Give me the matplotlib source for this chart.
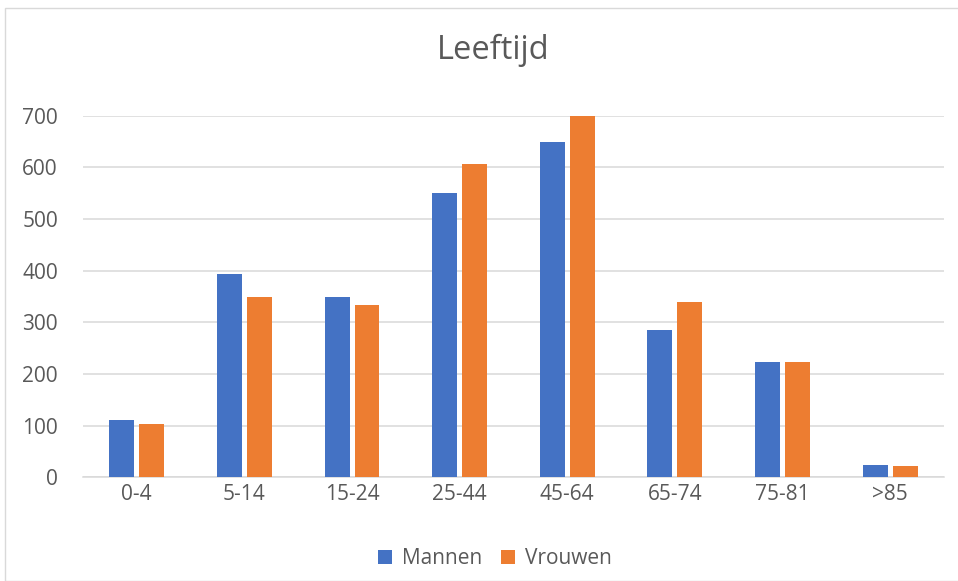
import matplotlib
matplotlib.use('Agg')
import matplotlib.pyplot as plt
import numpy as np
from matplotlib.patches import Rectangle

categories = ['0-4', '5-14', '15-24', '25-44', '45-64', '65-74', '75-81', '>85']
mannen = [111, 394, 349, 551, 649, 285, 223, 24]
vrouwen = [103, 349, 334, 607, 700, 340, 223, 22]
yticks = [0, 100, 200, 300, 400, 500, 600, 700]

plt.rcParams['font.family'] = ['Open Sans', 'DejaVu Sans']
grey = '#595959'

fig = plt.figure(figsize=(9.58, 5.81), dpi=100)
ax = fig.add_axes([0.0866, 0.1785, 0.8988, 0.6224])

x = np.arange(len(categories))
w = 0.232
gap = 0.046
ax.bar(x - (w + gap) / 2, mannen, w, color='#4472C4', label='Mannen', zorder=3)
ax.bar(x + (w + gap) / 2, vrouwen, w, color='#ED7D31', label='Vrouwen', zorder=3)

ax.set_xlim(-0.5, len(categories) - 0.5)
ax.set_ylim(0, 700)
ax.set_yticks(yticks)
ax.set_xticks(x)
ax.set_xticklabels(categories)
ax.yaxis.grid(True, color='#d9d9d9', linewidth=1.1, zorder=0)
ax.tick_params(axis='both', length=0, labelsize=15, colors=grey)
ax.tick_params(axis='x', pad=5)
ax.tick_params(axis='y', pad=18)
for s in ['top', 'right', 'left']:
    ax.spines[s].set_visible(False)
ax.spines['bottom'].set_color('#d9d9d9')
ax.spines['bottom'].set_linewidth(1.1)

fig.text(0.515, 0.913, 'Leeftijd', ha='center', va='center', fontsize=23.5, color=grey)

leg = fig.legend(loc='center', bbox_to_anchor=(0.517, 0.038), ncol=2, frameon=False,
                 fontsize=15, handlelength=0.65, handleheight=0.65, handletextpad=0.5,
                 columnspacing=0.9)
for t in leg.get_texts():
    t.set_color(grey)

fig.patches.append(Rectangle((5 / 958, 0), 1, 1 - 8 / 581, transform=fig.transFigure,
                             fill=False, edgecolor='#d9d9d9', linewidth=1.0))

plt.savefig('out.png', dpi=100)
